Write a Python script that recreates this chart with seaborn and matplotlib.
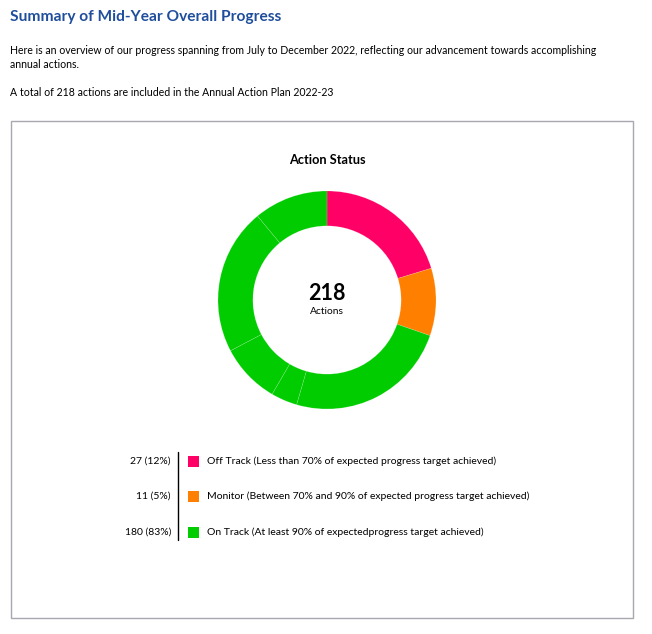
import matplotlib
matplotlib.use("Agg")
import matplotlib.pyplot as plt
from matplotlib.patches import Rectangle
import seaborn as sns

# donut segments (share of the ring, clockwise from 12 o'clock)
segment_values = [20.3, 10.0, 24.2, 3.9, 8.9, 21.7, 11.0]
segment_status = ['Off Track', 'Monitor', 'On Track', 'On Track', 'On Track', 'On Track', 'On Track']

# legend table
status_names = ['Off Track', 'Monitor', 'On Track']
status_counts = [27, 11, 180]
status_pcts = [12, 5, 83]
status_desc = ['Off Track (Less than 70% of expected progress target achieved)',
               'Monitor (Between 70% and 90% of expected progress target achieved)',
               'On Track (At least 90% of expectedprogress target achieved)']
total_actions = 218

sns.set_style("white")
plt.rcParams['font.family'] = ['Lato', 'DejaVu Sans']
plt.rcParams['text.color'] = 'black'

palette = dict(zip(status_names, sns.color_palette(['#ff0066', '#ff7f00', '#00cc00'])))

W, H = 652, 634
fig = plt.figure(figsize=(W / 100, H / 100), dpi=100)


def px(x, y):
    return x / W, 1 - y / H


# header text
fig.text(*px(10, 17), 'Summary of Mid-Year Overall Progress', color='#1f4e9c',
         fontsize=11.2, fontweight='bold', va='center')
fig.text(*px(10, 50), 'Here is an overview of our progress spanning from July to December 2022, '
         'reflecting our advancement towards accomplishing', fontsize=7.6, va='center')
fig.text(*px(10, 64), 'annual actions.', fontsize=7.6, va='center')
fig.text(*px(10, 92), 'A total of %d actions are included in the Annual Action Plan 2022-23' % total_actions,
         fontsize=7.6, va='center')

# outer box
fig.patches.append(Rectangle(px(11, 618), 622 / W, 497 / H, transform=fig.transFigure,
                             fill=False, edgecolor='#a8a8b0', linewidth=1))

fig.text(*px(327, 160), 'Action Status', fontsize=9.2, fontweight='bold', ha='center', va='center')

# donut
cx, cy, r = 327, 300, 109
ax = fig.add_axes([(cx - r) / W, 1 - (cy + r) / H, 2 * r / W, 2 * r / H])
ax.pie(segment_values, colors=[palette[s] for s in segment_status], startangle=90,
       counterclock=False, radius=1,
       wedgeprops=dict(width=0.32, edgecolor=(1, 1, 1, 0.2), linewidth=0.5))
ax.set_xlim(-1, 1)
ax.set_ylim(-1, 1)
ax.axis('off')
ax.text(0, 0.06, str(total_actions), fontsize=15.5, fontweight='bold', ha='center', va='center')
ax.text(0, -0.11, 'Actions', fontsize=7.4, ha='center', va='center')

# legend
row_y = [461, 496, 532]
fig.lines.append(plt.Line2D([178 / W, 178 / W], [1 - 452 / H, 1 - 540 / H],
                            transform=fig.transFigure, color='black', linewidth=1))
for name, n, p, desc, y in zip(status_names, status_counts, status_pcts, status_desc, row_y):
    fig.text(*px(171, y), '%d (%d%%)' % (n, p), fontsize=7.5, ha='right', va='center')
    fig.patches.append(Rectangle(px(188, y + 5.5), 11 / W, 11 / H, transform=fig.transFigure,
                                 facecolor=palette[name], edgecolor='none'))
    fig.text(*px(207, y), desc, fontsize=7.5, va='center')

fig.savefig('out.png', dpi=100, facecolor='white')
